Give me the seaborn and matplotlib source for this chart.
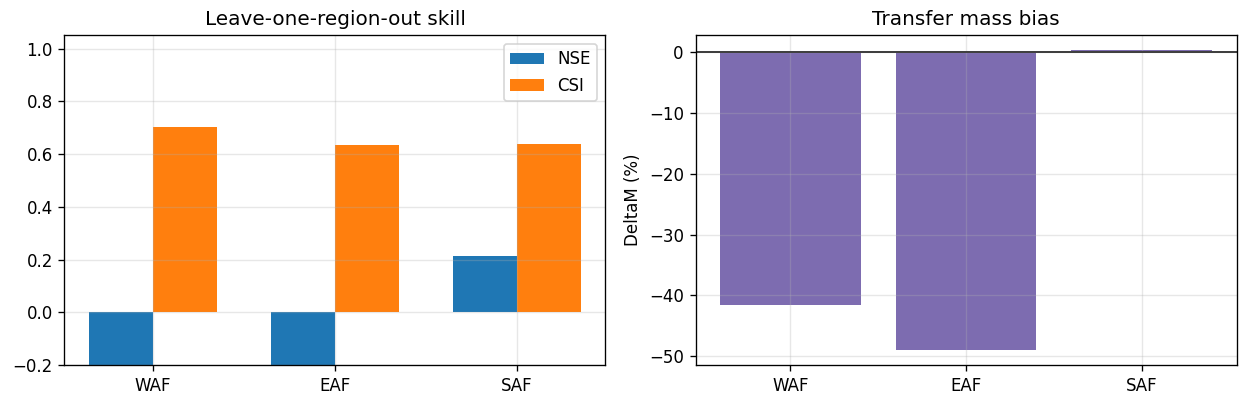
import matplotlib
matplotlib.use("Agg")
import matplotlib.pyplot as plt
import pandas as pd
import seaborn as sns

regions = ["WAF", "EAF", "SAF"]
nse = [-0.62, -0.41, 0.215]
csi = [0.702, 0.633, 0.637]
delta_m = [-41.6, -49.0, 0.3]


def main():
    skill_df = pd.DataFrame({"region": regions, "NSE": nse, "CSI": csi})
    skill_df = skill_df.melt(id_vars="region", var_name="metric", value_name="value")

    fig, axes = plt.subplots(1, 2, figsize=(1247 / 120, 407 / 120), dpi=120)

    ax = axes[0]
    sns.barplot(data=skill_df, x="region", y="value", hue="metric",
                palette=["#1f77b4", "#ff7f0e"], saturation=1, width=0.7, ax=ax)
    ax.set_ylim(-0.2, 1.05)
    ax.set_xlim(-0.485, 2.485)
    ax.set_title("Leave-one-region-out skill")
    ax.set_xlabel("")
    ax.set_ylabel("")
    ax.grid(alpha=0.3)
    ax.legend(loc="upper right")

    ax = axes[1]
    sns.barplot(x=regions, y=delta_m, color="#7d6cb0", saturation=1, width=0.8, ax=ax)
    ax.axhline(0, color="0.25", lw=1.2)
    ax.set_xlim(-0.54, 2.54)
    ax.set_title("Transfer mass bias")
    ax.set_ylabel("DeltaM (%)")
    ax.grid(alpha=0.3)

    fig.subplots_adjust(left=0.0517, right=0.9916, top=0.9128, bottom=0.1032, wspace=0.1664)
    plt.savefig("out.png", dpi=120)


if __name__ == "__main__":
    main()
